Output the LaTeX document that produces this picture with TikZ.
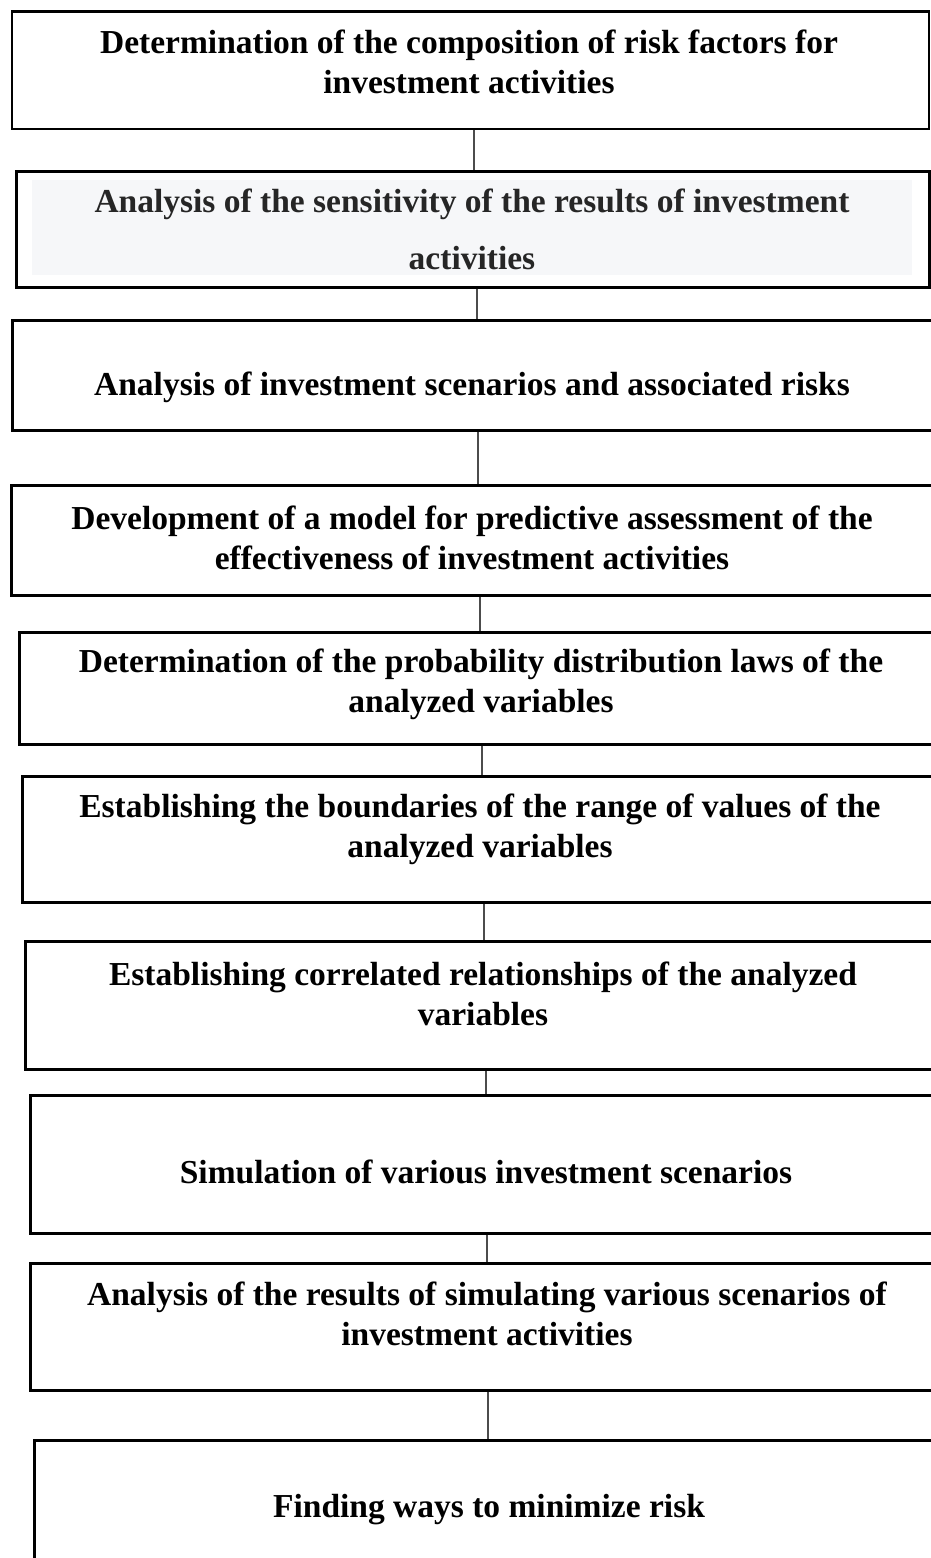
\documentclass[tikz,border=0pt]{standalone}
\usepackage{fontspec}
\setmainfont{Liberation Serif}
\definecolor{panelgrey}{rgb}{0.965,0.969,0.976}
\begin{document}
\begin{tikzpicture}[x=1pt,y=-1pt,
  box/.style={draw=black,line width=2.6pt,rectangle,inner sep=0pt,anchor=north west},
  label/.style={font=\bfseries\fontsize{33.5}{40}\selectfont,align=center,inner sep=0pt,text=black},
  link/.style={draw=black!70,line width=1.3pt}]
\clip (0,0) rectangle (931,1558);
\fill[white] (0,0) rectangle (931,1558);
% boxes
\node[box,minimum width=917pt,minimum height=117.5pt] (b1) at (10.5,10) {};
\node[box,minimum width=913pt,minimum height=116pt] (b2) at (15,170) {};
\fill[panelgrey] (32,180) rectangle (912,275);
\node[box,minimum width=924pt,minimum height=110pt] (b3) at (11,319) {};
\node[box,minimum width=925pt,minimum height=110pt] (b4) at (10,484) {};
\node[box,minimum width=927pt,minimum height=112pt] (b5) at (18,631) {};
\node[box,minimum width=924pt,minimum height=126pt] (b6) at (21,775) {};
\node[box,minimum width=921pt,minimum height=128pt] (b7) at (24,940) {};
\node[box,minimum width=916pt,minimum height=138pt] (b8) at (29,1094) {};
\node[box,minimum width=916pt,minimum height=127pt] (b9) at (29,1262) {};
\node[box,minimum width=912pt,minimum height=161pt] (b10) at (33,1439) {};
% texts
\node[label] (t1) at (469,62) {Determination of the composition of risk factors for\\investment activities};
\node[label,font=\bfseries\fontsize{33.5}{57}\selectfont,text=black!85] (t2) at (472,229.5) {Analysis of the sensitivity of the results of investment\\activities};
\node[label] (t3) at (472,387) {Analysis of investment scenarios and associated risks};
\node[label] (t4) at (472,538) {Development of a model for predictive assessment of the\\effectiveness of investment activities};
\node[label] (t5) at (481,684.5) {Determination of the probability distribution laws of the\\analyzed variables};
\node[label] (t6) at (480,829) {Establishing the boundaries of the range of values of the\\analyzed variables};
\node[label] (t7) at (483,994) {Establishing correlated relationships of the analyzed\\variables};
\node[label] (t8) at (486,1172) {Simulation of various investment scenarios};
\node[label] (t9) at (487,1313.5) {Analysis of the results of simulating various scenarios of\\investment activities};
\node[label] (t10) at (489,1510) {Finding ways to minimize risk};
% connector x positions
\coordinate (c1) at (474,0);
\coordinate (c2) at (477,0);
\coordinate (c3) at (478,0);
\coordinate (c4) at (480,0);
\coordinate (c5) at (482,0);
\coordinate (c6) at (484,0);
\coordinate (c7) at (486,0);
\coordinate (c8) at (487,0);
\coordinate (c9) at (488,0);
\draw[link] (b1.south -| c1) -- (b2.north -| c1);
\draw[link] (b2.south -| c2) -- (b3.north -| c2);
\draw[link] (b3.south -| c3) -- (b4.north -| c3);
\draw[link] (b4.south -| c4) -- (b5.north -| c4);
\draw[link] (b5.south -| c5) -- (b6.north -| c5);
\draw[link] (b6.south -| c6) -- (b7.north -| c6);
\draw[link] (b7.south -| c7) -- (b8.north -| c7);
\draw[link] (b8.south -| c8) -- (b9.north -| c8);
\draw[link] (b9.south -| c9) -- (b10.north -| c9);
\end{tikzpicture}
\end{document}
